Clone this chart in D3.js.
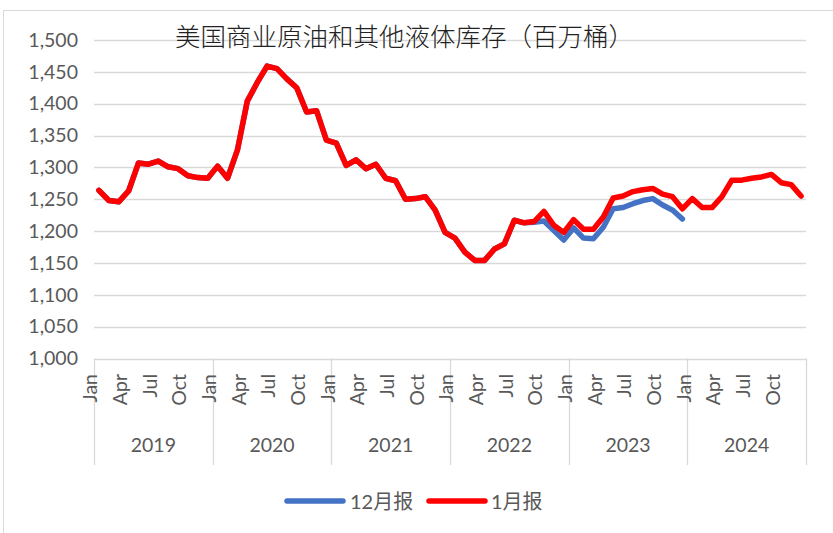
<!DOCTYPE html>
<html>
<head>
<meta charset="utf-8">
<script src="https://cdn.jsdelivr.net/npm/d3@7"></script>
<style>
  body { margin: 0; background: #fff; }
  svg { display: block; }
</style>
</head>
<body>
<div id="viz"></div>
<script>
// Categories
const years = ["2019", "2020", "2021", "2022", "2023", "2024"];
const monthNames = ["Jan", "Feb", "Mar", "Apr", "May", "Jun", "Jul", "Aug", "Sep", "Oct", "Nov", "Dec"];
const shownMonths = ["Jan", "Apr", "Jul", "Oct"];
const yTicks = [1000, 1050, 1100, 1150, 1200, 1250, 1300, 1350, 1400, 1450, 1500];

// 1月报 (Jan 2019 - Dec 2024)
const janReport = [
  1264, 1248, 1246, 1263, 1307, 1305, 1310, 1301, 1298, 1287, 1284, 1283,
  1302, 1283, 1327, 1404, 1433, 1459, 1455, 1439, 1425, 1387, 1389, 1343,
  1338, 1303, 1312, 1298, 1305, 1283, 1279, 1250, 1251, 1254, 1233, 1198,
  1189, 1167, 1154, 1154, 1172, 1180, 1217, 1213, 1215, 1231, 1209, 1198,
  1218, 1203, 1203, 1222, 1252, 1255, 1262, 1265, 1267, 1258, 1254, 1235,
  1251, 1237, 1237, 1254, 1280, 1280, 1283, 1285, 1289, 1276, 1273, 1255
];

// 12月报 (Jan 2019 - Dec 2023)
const decReport = [
  1264, 1248, 1246, 1263, 1307, 1305, 1310, 1301, 1298, 1287, 1284, 1283,
  1302, 1283, 1327, 1404, 1433, 1459, 1455, 1439, 1425, 1387, 1389, 1343,
  1338, 1303, 1312, 1298, 1305, 1283, 1279, 1250, 1251, 1254, 1233, 1198,
  1189, 1167, 1154, 1154, 1172, 1180, 1217, 1213, 1214, 1216, 1201, 1186,
  1205, 1189, 1188, 1206, 1235, 1237, 1243, 1248, 1251, 1241, 1233, 1219
];

const width = 833;
const height = 533;

// plot area
const plot = { left: 94, right: 806, top: 40, bottom: 358.5 };

const axisColor = "#d9d9d9";
const textColor = "#595959";
const latin = "Lato, 'Open Sans', sans-serif";

const svg = d3.select("#viz")
  .append("svg")
  .attr("width", width)
  .attr("height", height);

// chart border
svg.append("rect")
  .attr("x", 3.5)
  .attr("y", 10.5)
  .attr("width", 860)
  .attr("height", 560)
  .attr("fill", "none")
  .attr("stroke", axisColor);

// every month as a category
const categories = [];
years.forEach(y => monthNames.forEach(m => categories.push(y + "-" + m)));

const xScale = d3.scaleBand()
  .domain(categories)
  .range([plot.left, plot.right])
  .padding(0);

const yScale = d3.scaleLinear()
  .domain([1000, 1500])
  .range([plot.bottom, plot.top]);

const cx = i => xScale(categories[i]) + xScale.bandwidth() / 2;

// horizontal gridlines
svg.append("g")
  .selectAll("line")
  .data(yTicks)
  .join("line")
  .attr("x1", plot.left)
  .attr("x2", plot.right)
  .attr("y1", d => Math.round(yScale(d)) + 0.5)
  .attr("y2", d => Math.round(yScale(d)) + 0.5)
  .attr("stroke", axisColor)
  .attr("stroke-width", 1.3);

// y axis labels
const yAxis = d3.axisLeft(yScale)
  .tickValues(yTicks)
  .tickSize(0)
  .tickPadding(16)
  .tickFormat(d3.format(","));

svg.append("g")
  .attr("transform", `translate(${plot.left}, 0)`)
  .call(yAxis)
  .call(g => g.select(".domain").remove())
  .call(g => g.selectAll("text")
    .attr("font-family", latin)
    .attr("font-size", 19.5)
    .attr("fill", textColor));

// year separators on the category axis
const yearEdges = d3.range(years.length + 1).map(k =>
  k < years.length ? xScale(years[k] + "-Jan") : plot.right);

svg.append("g")
  .selectAll("line")
  .data(yearEdges)
  .join("line")
  .attr("x1", d => Math.round(d) + 0.5)
  .attr("x2", d => Math.round(d) + 0.5)
  .attr("y1", plot.bottom)
  .attr("y2", 465)
  .attr("stroke", axisColor)
  .attr("stroke-width", 1.3);

// month labels (rotated)
const monthLabels = categories
  .map((c, i) => ({ c, i, m: c.split("-")[1] }))
  .filter(d => shownMonths.includes(d.m));

svg.append("g")
  .selectAll("text")
  .data(monthLabels)
  .join("text")
  .attr("transform", d => `translate(${cx(d.i) - 8.5}, 374) rotate(-90)`)
  .attr("dy", "0.35em")
  .attr("text-anchor", "end")
  .attr("font-family", latin)
  .attr("font-size", 19.5)
  .attr("fill", textColor)
  .text(d => d.m);

// year labels
svg.append("g")
  .selectAll("text")
  .data(years)
  .join("text")
  .attr("x", (d, k) => (yearEdges[k] + yearEdges[k + 1]) / 2)
  .attr("y", 452)
  .attr("text-anchor", "middle")
  .attr("font-family", latin)
  .attr("font-size", 19.5)
  .attr("fill", textColor)
  .text(d => d);

// series lines
const line = d3.line()
  .x((d, i) => cx(i))
  .y(d => yScale(d));

const series = [
  { name: "12月报", values: decReport, color: "#4472C4" },
  { name: "1月报", values: janReport, color: "#FF0000" }
];

series.forEach(s => {
  svg.append("path")
    .datum(s.values)
    .attr("d", line)
    .attr("fill", "none")
    .attr("stroke", s.color)
    .attr("stroke-width", 5.5)
    .attr("stroke-linejoin", "round")
    .attr("stroke-linecap", "round");
});

// title
svg.append("text")
  .attr("x", 175)
  .attr("y", 46)
  .attr("font-family", "'Noto Sans CJK SC', sans-serif")
  .attr("font-weight", 300)
  .attr("font-size", 25.5)
  .attr("fill", "#222")
  .text("美国商业原油和其他液体库存（百万桶）");

// legend
const legendItems = [
  { s: series[0], x1: 287, x2: 343, tx: 350 },
  { s: series[1], x1: 429, x2: 485, tx: 491 }
];

legendItems.forEach(d => {
  svg.append("line")
    .attr("x1", d.x1)
    .attr("x2", d.x2)
    .attr("y1", 501)
    .attr("y2", 501)
    .attr("stroke", d.s.color)
    .attr("stroke-width", 5.5)
    .attr("stroke-linecap", "round");

  svg.append("text")
    .attr("x", d.tx)
    .attr("y", 509)
    .attr("font-family", "Lato, 'Noto Sans CJK SC', sans-serif")
    .attr("font-size", 20)
    .attr("fill", textColor)
    .text(d.s.name);
});
</script>
</body>
</html>
